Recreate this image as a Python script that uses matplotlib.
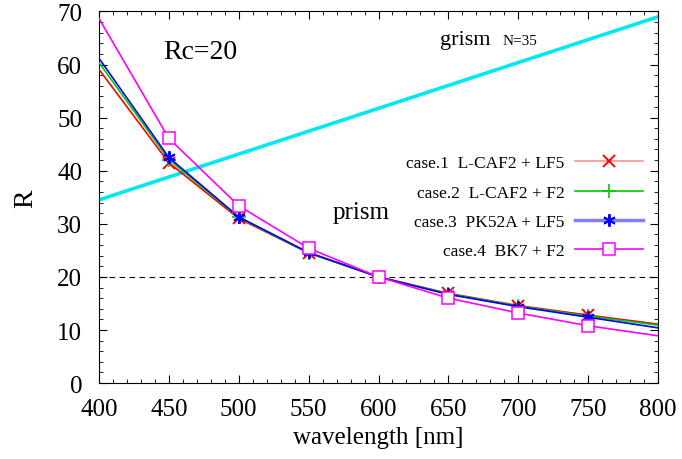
import numpy as np
import matplotlib
matplotlib.use("Agg")
from matplotlib import pyplot as plt
from matplotlib.ticker import MultipleLocator

# wavelength grid [nm]
wavelength = [400, 450, 500, 550, 600, 650, 700, 750, 800]

# resolving power of the prism cases
case1 = [59.1, 41.5, 31.0, 24.5, 20.0, 16.9, 14.6, 12.8, 11.1]
case2 = [60.4, 42.1, 31.2, 24.5, 20.0, 16.8, 14.5, 12.6, 10.9]
case3 = [61.2, 42.5, 31.3, 24.6, 20.0, 16.7, 14.4, 12.4, 10.4]
case4 = [68.7, 46.1, 33.4, 25.4, 20.0, 16.0, 13.2, 10.8, 8.9]

labels = ["case.1  L-CAF2 + LF5", "case.2  L-CAF2 + F2",
          "case.3  PK52A + LF5", "case.4  BK7 + F2"]

# grism N=35 (straight line)
grism_x = [400, 800]
grism_r = [34.5, 69.0]

rc_value = 20

plt.rcParams['font.family'] = ['Liberation Serif', 'DejaVu Serif']

fig = plt.figure(figsize=(6.82, 4.6), dpi=100)
ax = fig.add_axes([0.145, 0.165, 0.82, 0.808])

ax.plot(grism_x, grism_r, color='#00e8f0', lw=2.6, zorder=2)
ax.axhline(rc_value, color='black', lw=0.8, ls=(0, (5, 4)), zorder=1)

marks = slice(1, 8)
ax.plot(wavelength, case1, color='red', lw=1.2, marker='x', ms=8, mew=1.4,
        markevery=marks, label=labels[0], zorder=3)
ax.plot(wavelength, case2, color='#00cc00', lw=1.2, marker='+', ms=10, mew=1.2,
        markevery=marks, label=labels[1], zorder=3)
ax.plot(wavelength, case3, color='blue', lw=1.2, marker=(6, 2, 0), ms=9, mew=1.4,
        markevery=marks, label=labels[2], zorder=4)
ax.plot(wavelength, case4, color='magenta', lw=1.2, marker='s', ms=9, mew=1.1,
        mfc='white', markevery=marks, label=labels[3], zorder=5)

leg = ax.legend(loc='upper right', bbox_to_anchor=(1.0, 0.655), frameon=False,
                markerfirst=False, fontsize=12.5, handlelength=3.9,
                labelspacing=0.75, handletextpad=0.6)
# pale legend sample lines like the original
leg.get_lines()[0].set_color('#ff9090')
leg.get_lines()[0].set_markeredgecolor('red')
leg.get_lines()[2].set_color('#8080ff')
leg.get_lines()[2].set_linewidth(2.5)
leg.get_lines()[2].set_markeredgecolor('blue')

ax.text(446, 62.5, "Rc=20", fontsize=20, va='center')
ax.text(644, 64.8, "grism", fontsize=16, va='center')
ax.text(689, 64.6, "N=35", fontsize=11, va='center')
ax.text(567, 32.2, "prism", fontsize=18, va='center')

ax.set_xlim(400, 800)
ax.set_ylim(0, 70)
ax.xaxis.set_major_locator(MultipleLocator(50))
ax.xaxis.set_minor_locator(MultipleLocator(10))
ax.yaxis.set_major_locator(MultipleLocator(10))
ax.yaxis.set_minor_locator(MultipleLocator(2))
ax.tick_params(which='both', direction='in', top=True, right=True, labelsize=18)
ax.tick_params(which='major', length=6)
ax.tick_params(which='minor', length=3)
ax.tick_params(axis='x', pad=11)
ax.tick_params(axis='y', pad=12)

ax.set_xlabel("wavelength [nm]", fontsize=18, labelpad=4)
ax.set_ylabel("R", fontsize=20, labelpad=14)

fig.savefig("out.png", dpi=100)
